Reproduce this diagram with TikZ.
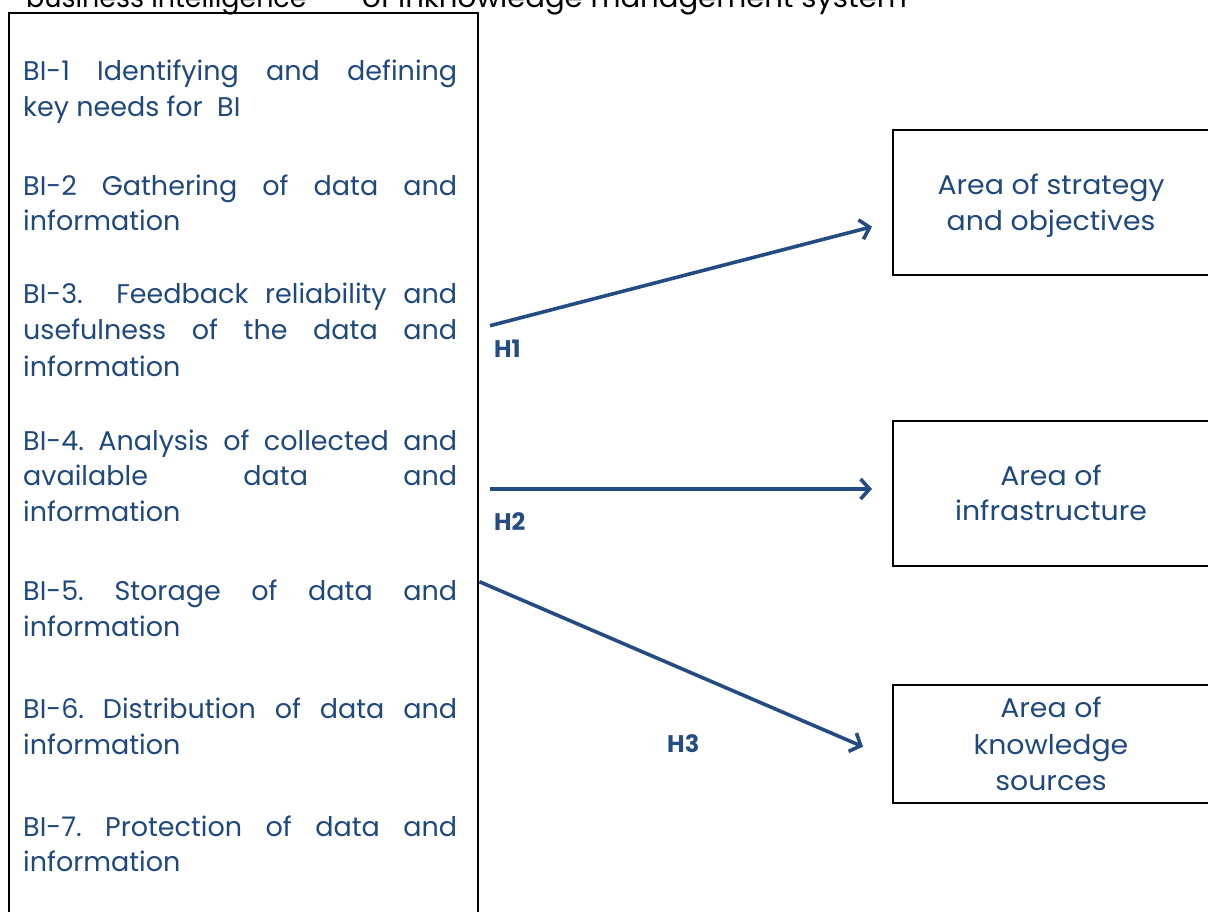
\documentclass[tikz,border=0pt]{standalone}
\usepackage{fontspec}
\usepackage{graphicx}
\setmainfont{Poppins}
\usetikzlibrary{arrows.meta}
\definecolor{bitext}{RGB}{31,73,125}
\definecolor{arrowblue}{RGB}{36,76,130}
\newcommand{\jline}[1]{\makebox[434pt][s]{#1}}
\newcommand{\cond}[1]{\scalebox{1.05}[1]{#1}}
\tikzset{
  bl/.style={anchor=base west, inner sep=0pt, text=bitext, font=\fontsize{27}{36}\selectfont},
  rt/.style={anchor=base, inner sep=0pt, text=bitext, font=\fontsize{27}{36}\selectfont},
  hl/.style={anchor=base west, inner sep=0pt, text=arrowblue, font=\fontsize{24}{28}\selectfont\bfseries},
  boxr/.style={draw=black, line width=2pt, anchor=north west, inner sep=0pt},
  conn/.style={draw=arrowblue, line width=3.6pt, -{Straight Barb[length=9pt,width=20pt]}},
}
\frenchspacing
\begin{document}
\frenchspacing
\begin{tikzpicture}[x=1pt,y=-1pt]
\useasboundingbox (0,0) rectangle (1208,911);
\clip (0,0) rectangle (1208,911);
% top cut-off caption
\node[anchor=base west, inner sep=0pt, font=\fontsize{28}{34}\selectfont] (capa) at (26,7.5) {\scalebox{0.96}[1]{business intelligence}};
\node[anchor=base west, inner sep=0pt, font=\fontsize{28}{34}\selectfont] (capb) at (362,7.5) {\scalebox{1.04}[1]{of inknowledge management system}};
% left box
\node[boxr, minimum width=469pt, minimum height=940pt] (bi) at (8,12) {};
% BI items
\node[bl] (b1a) at (23,80.7) {\jline{BI-1 Identifying and defining}};
\node[bl] (b1b) at (23,116) {key needs for \ BI};
\node[bl] (b2a) at (23,195) {\jline{BI-2 Gathering of data and}};
\node[bl] (b2b) at (23,230.7) {information};
\node[bl] (b3a) at (23,303.3) {\jline{BI-3. \ Feedback reliability and}};
\node[bl] (b3b) at (23,339.3) {\jline{usefulness of the data and}};
\node[bl] (b3c) at (23,376.7) {information};
\node[bl] (b4a) at (23,450) {\jline{BI-4. Analysis of collected and}};
\node[bl] (b4b) at (23,485) {\jline{available data and}};
\node[bl] (b4c) at (23,521.7) {information};
\node[bl] (b5a) at (23,600) {\jline{BI-5. Storage of data and}};
\node[bl] (b5b) at (23,636) {information};
\node[bl] (b6a) at (23,718.3) {\jline{BI-6. Distribution of data and}};
\node[bl] (b6b) at (23,754) {information};
\node[bl] (b7a) at (23,836) {\jline{BI-7. Protection of data and}};
\node[bl] (b7b) at (23,871.7) {information};
% right boxes
\node[boxr, minimum width=330pt, minimum height=145pt] (ra) at (892,129) {};
\node[boxr, minimum width=330pt, minimum height=145pt] (rb) at (892,420) {};
\node[boxr, minimum width=330pt, minimum height=117.5pt] (rc) at (892,684) {};
\node[rt] (ra1) at (1051,194) {\cond{Area of strategy}};
\node[rt] (ra2) at (1051,230) {\cond{and objectives}};
\node[rt] (rb1) at (1051,485) {\cond{Area of}};
\node[rt] (rb2) at (1051,520) {\cond{infrastructure}};
\node[rt] (rc1) at (1051,717.3) {\cond{Area of}};
\node[rt] (rc2) at (1051,754) {\cond{knowledge}};
\node[rt] (rc3) at (1051,790) {\cond{sources}};
% connectors
\coordinate (h1s) at (490,325.7);
\coordinate (h1e) at (872,226.7);
\coordinate (h2s) at (490,489);
\coordinate (h2e) at (872,489);
\coordinate (h3s) at (479.4,581.7);
\coordinate (h3e) at (863,746.7);
\draw[conn] (h1s) -- (h1e);
\draw[conn] (h2s) -- (h2e);
\draw[conn] (h3s) -- (h3e);
\node[hl] (H1) at (494,357) {H1};
\node[hl] (H2) at (494,530.7) {H2};
\node[hl] (H3) at (667,752.7) {H3};
\end{tikzpicture}
\end{document}
